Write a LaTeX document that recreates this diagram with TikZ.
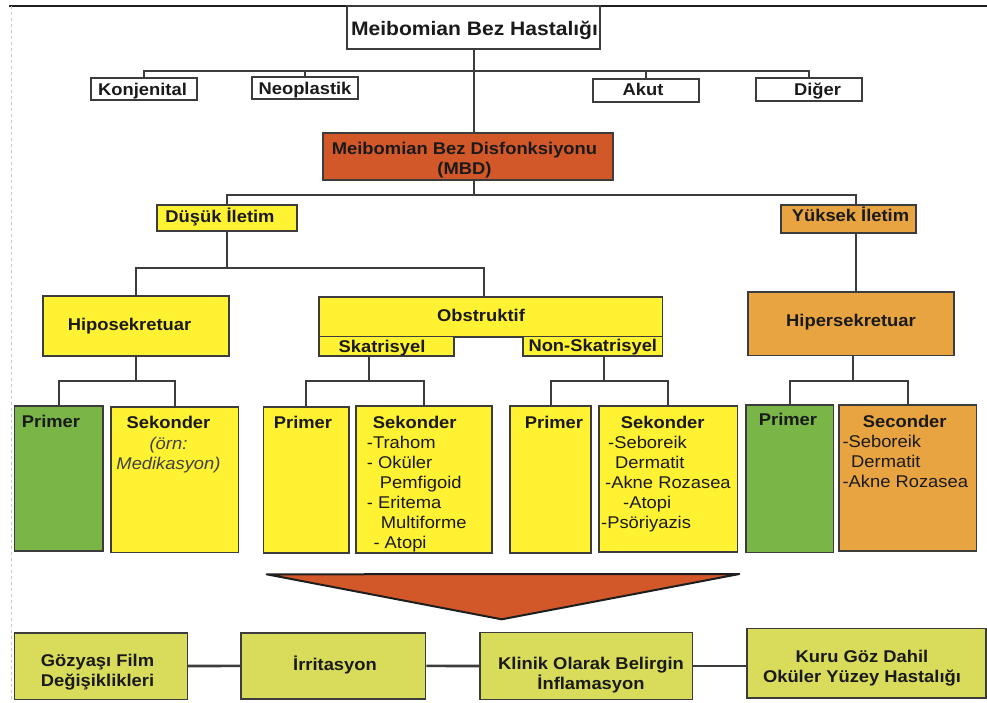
\documentclass[tikz,border=0pt]{standalone}
\usepackage{fontspec}
\setmainfont{Liberation Sans}[FakeStretch=1.08]
\definecolor{linec}{RGB}{60,60,60}
\definecolor{framec}{RGB}{30,30,30}
\definecolor{textc}{RGB}{26,26,26}
\definecolor{mbdc}{RGB}{210,88,42}
\definecolor{yel}{RGB}{255,242,51}
\definecolor{grn}{RGB}{122,181,72}
\definecolor{orn}{RGB}{232,164,64}
\definecolor{olv}{RGB}{216,220,90}
\tikzset{
  box/.style={draw=linec, line width=1.6pt, inner sep=0pt, anchor=center},
  conn/.style={draw=linec, line width=2pt},
  txt/.style={inner sep=0pt, text=textc, font=\fontsize{17}{20}\selectfont\bfseries},
  lst/.style={inner sep=0pt, text=textc, font=\fontsize{17}{20}\selectfont, align=left, anchor=north west},
}
\begin{document}
\begin{tikzpicture}[x=1pt,y=-1pt]
\useasboundingbox (0,0) rectangle (987,702);
\fill[white] (0,0) rectangle (987,702);
% screenshot frame
\draw[framec, line width=2pt] (9,5.7) -- (987,5.7);
\draw[gray!45, dashed, line width=0.8pt] (11.7,6) -- (11.7,702);

% ---- boxes ----
\node[box, fill=white, minimum width=253pt, minimum height=43pt] (top) at (473.5,27.5) {};
\node[box, fill=white, minimum width=106pt, minimum height=22pt] (konj) at (143.8,88.8) {};
\node[box, fill=white, minimum width=106pt, minimum height=22pt] (neo) at (304.8,88) {};
\node[box, fill=white, minimum width=106pt, minimum height=23pt] (akut) at (646,90.5) {};
\node[box, fill=white, minimum width=106pt, minimum height=23pt] (dig) at (809,89.5) {};
\node[box, fill=mbdc, minimum width=290pt, minimum height=47pt] (mbd) at (467.9,156.3) {};
\node[box, fill=yel, minimum width=140pt, minimum height=25.7pt] (dus) at (227,217.9) {};
\node[box, fill=orn, minimum width=135pt, minimum height=28pt] (yuk) at (848.5,219) {};
\node[box, fill=yel, minimum width=186pt, minimum height=60pt] (hipo) at (135.7,326) {};
\node[box, fill=yel, minimum width=343.7pt, minimum height=40pt] (obs) at (490.8,316.7) {};
\node[box, fill=yel, minimum width=135pt, minimum height=19.3pt] (skat) at (386.5,346.3) {};
\node[box, fill=yel, minimum width=139.7pt, minimum height=19.3pt] (nsk) at (592.8,346.3) {};
\node[box, fill=orn, minimum width=206pt, minimum height=63.7pt] (hip) at (851,323.8) {};

\node[box, fill=grn, minimum width=88.4pt, minimum height=145pt] (p1) at (58.5,478.2) {};
\node[box, fill=yel, minimum width=127.3pt, minimum height=145.6pt] (s1) at (174.7,479.5) {};
\node[box, fill=yel, minimum width=85.7pt, minimum height=146.3pt] (p2) at (306.2,479.9) {};
\node[box, fill=yel, minimum width=136pt, minimum height=147pt] (s2) at (423.7,479.5) {};
\node[box, fill=yel, minimum width=81pt, minimum height=147pt] (p3) at (550.5,479.5) {};
\node[box, fill=yel, minimum width=138.3pt, minimum height=146pt] (s3) at (668.2,479) {};
\node[box, fill=grn, minimum width=87.3pt, minimum height=147.3pt] (p4) at (789.7,478.7) {};
\node[box, fill=orn, minimum width=137.7pt, minimum height=145.7pt] (s4) at (907.8,477.9) {};

\node[box, fill=olv, minimum width=173pt, minimum height=66.6pt] (g) at (100.8,666) {};
\node[box, fill=olv, minimum width=184.7pt, minimum height=66.3pt] (i) at (333.3,665.9) {};
\node[box, fill=olv, minimum width=212.3pt, minimum height=67pt] (k) at (586.2,666) {};
\node[box, fill=olv, minimum width=239pt, minimum height=69.4pt] (kuru) at (866.2,663) {};

% ---- arrow triangle ----
\filldraw[fill=mbdc, draw=framec, line width=2pt, line join=round]
  (266.7,574.3) -- (739.3,574) -- (501.7,619.3) -- cycle;

% ---- connectors ----
\coordinate (bA) at (473.5,70.7);
\draw[conn] (konj.north) |- (bA) -| (dig.north);
\draw[conn] (neo.north) -- (neo.north |- bA);
\draw[conn] (akut.north) -- (akut.north |- bA);
\draw[conn] (top.south) -- (top.south |- mbd.north);

\coordinate (bB) at (473.5,195);
\coordinate (cY) at (855.5,0);
\draw[conn] (top.south |- mbd.south) -- (bB);
\draw[conn] (dus.north) |- (bB) -| (yuk.north -| cY);
\draw[conn] (yuk.south -| cY) -- (hip.north -| cY);

\coordinate (bC) at (227,268.3);
\coordinate (cO) at (484,0);
\draw[conn] (dus.south) -- (bC);
\draw[conn] (hipo.north) |- (bC) -| (obs.north -| cO);

\coordinate (jH) at (135.7,381);
\draw[conn] (hipo.south) -- (jH);
\draw[conn] (p1.north) |- (jH) -| (s1.north);
\coordinate (jS) at (369.3,381);
\draw[conn] (skat.south -| jS) -- (jS);
\draw[conn] (p2.north) |- (jS) -| (s2.north);
\coordinate (jN) at (604,381);
\draw[conn] (nsk.south -| jN) -- (jN);
\draw[conn] (p3.north) |- (jN) -| (s3.north);
\coordinate (jP) at (853,381);
\draw[conn] (hip.south -| jP) -- (jP);
\draw[conn] (p4.north) |- (jP) -| (s4.north);

\draw[conn, line width=2.6pt] (g.east) -- (i.west);
\draw[conn, line width=2.6pt] (i.east) -- (k.west);
\draw[conn, line width=2.6pt] (k.east) -- (k.east -| kuru.west);

% ---- texts ----
\node[txt, anchor=base, font=\fontsize{19.5}{22}\selectfont\bfseries] (ttop) at (474.5,35) {Meibomian Bez Hastalığı};
\node[txt, anchor=base] (tkonj) at (142.5,95.7) {Konjenital};
\node[txt, anchor=base] (tneo) at (305,94.3) {Neoplastik};
\node[txt, anchor=base] (takut) at (643,95.7) {Akut};
\node[txt, anchor=base] (tdig) at (817.5,95.7) {Diğer};
\node[txt, anchor=north, align=center] (tmbd) at (464.5,141.7) {Meibomian Bez Disfonksiyonu\\(MBD)};
\node[txt, anchor=base] (tdus) at (220,222.3) {Düşük İletim};
\node[txt, anchor=base] (tyuk) at (850.5,221.7) {Yüksek İletim};
\node[txt, anchor=base] (thipo) at (129.5,330.7) {Hiposekretuar};
\node[txt, anchor=base] (tobs) at (481,321.7) {Obstruktif};
\node[txt, anchor=base] (tskat) at (382,352.7) {Skatrisyel};
\node[txt, anchor=base] (tnsk) at (592.8,351.5) {Non-Skatrisyel};
\node[txt, anchor=base] (thip) at (851,326.7) {Hipersekretuar};

\node[txt, anchor=base west] (tp1) at (21.7,427) {Primer};
\node[txt, anchor=north, align=center] (ts1) at (168.5,416)
  {Sekonder\\[1pt]{\mdseries\itshape\color{black!75}(örn:}\\{\mdseries\itshape\color{black!75}Medikasyon)}};
\node[txt, anchor=base] (tp2) at (303,428) {Primer};
\node[lst] (ts2) at (366.7,416)
  {\hspace*{6pt}\textbf{Sekonder}\\-Trahom\\- Oküler\\\hspace*{13pt}Pemfigoid\\- Eritema\\\hspace*{14pt}Multiforme\\\hspace*{6.6pt}- Atopi};
\node[txt, anchor=base] (tp3) at (554,428) {Primer};
\node[lst] (ts3) at (601,416)
  {\hspace*{19.7pt}\textbf{Sekonder}\\\hspace*{7pt}-Seboreik\\\hspace*{14pt}Dermatit\\\hspace*{4pt}-Akne Rozasea\\\hspace*{22pt}-Atopi\\-Psöriyazis};
\node[txt, anchor=base] (tp4) at (788,425.7) {Primer};
\node[lst] (ts4) at (842.3,415)
  {\hspace*{20.4pt}\textbf{Seconder}\\-Seboreik\\\hspace*{8.7pt}Dermatit\\-Akne Rozasea};

\node[txt, anchor=north, align=center] (tg) at (97.5,654.3) {Gözyaşı Film\\Değişiklikleri};
\node[txt, anchor=base] (ti) at (335,670.7) {İrritasyon};
\node[txt, anchor=north, align=center] (tk) at (591,657) {Klinik Olarak Belirgin\\İnflamasyon};
\node[txt, anchor=north, align=center] (tkuru) at (862,649.5) {Kuru Göz Dahil\\Oküler Yüzey Hastalığı};
\end{tikzpicture}
\end{document}
